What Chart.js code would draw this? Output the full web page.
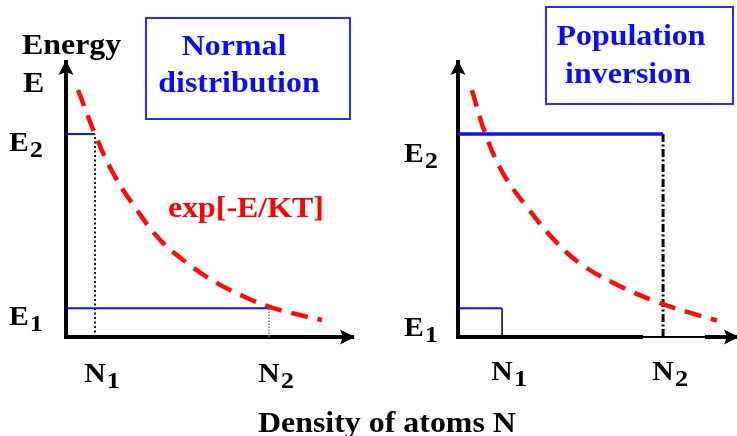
<!DOCTYPE html>
<html>
<head>
<meta charset="utf-8">
<script src="https://cdn.jsdelivr.net/npm/chart.js@4.4.1/dist/chart.umd.min.js"></script>
<style>
  html, body { margin: 0; padding: 0; background: #fff; }
  #wrap { position: relative; width: 737px; height: 436px; overflow: hidden;
          font-family: "Liberation Serif", "Times New Roman", serif; font-weight: bold; }
  .pane { position: absolute; top: 0; height: 436px; }
  #paneL { left: 0; width: 370px; }
  #paneR { left: 370px; width: 367px; }
  .txt { position: absolute; white-space: nowrap; line-height: 1; font-size: 29px;
         transform: scaleX(1.1); transform-origin: left top; }
  .ctr { width: 300px; text-align: center; transform-origin: center top; }
  .blue { color: #0a0aff; }
  .box { position: absolute; border: 2px solid #2a2aff; box-sizing: border-box; }
</style>
</head>
<body>
<div id="wrap">
  <div class="pane" id="paneL"><canvas id="normalChart"></canvas></div>
  <div class="pane" id="paneR"><canvas id="inversionChart"></canvas></div>

  <div class="box" style="left:145px;top:17px;width:206px;height:103px"></div>
  <div class="box" style="left:545px;top:6px;width:189px;height:99px"></div>

  <div class="txt" style="left:22px;top:30px">Energy</div>
  <div class="txt" style="left:23px;top:68px">E</div>
  <div class="txt ctr blue" style="left:84px;top:31px">Normal</div>
  <div class="txt ctr blue" style="left:89px;top:68px">distribution</div>
  <div class="txt ctr blue" style="left:481px;top:21px">Population</div>
  <div class="txt ctr blue" style="left:478px;top:59px">inversion</div>
  <div class="txt" style="left:168px;top:193px;color:#ff0000">exp[-E/KT]</div>
  <div class="txt" style="left:258px;top:408px">Density of atoms N</div>
</div>

<script>
// ===== DATA (axis units: 0..10 on both axes of each panel) =====
// left panel: normal (Boltzmann) distribution
const normalCurveX = [0.42, 1.01, 1.64, 2.47, 3.28, 4.22, 5.26, 6.31, 7.11, 8.15, 8.92];
const normalCurveY = [8.98, 7.38, 5.96, 4.62, 3.53, 2.69, 1.96, 1.42, 1.09, 0.80, 0.62];
const normalLevels = [1.05, 7.38];   // E1, E2
const normalPops   = [1.01, 7.07];   // N1, N2

// right panel: population inversion
const invCurveX = [0.50, 0.97, 1.61, 2.47, 3.55, 4.48, 5.70, 6.99, 8.21, 9.28];
const invCurveY = [8.98, 7.42, 5.96, 4.73, 3.42, 2.60, 1.90, 1.33, 0.91, 0.60];
const invLevels = [1.05, 7.38];      // E1, E2
const invPops   = [1.58, 7.35];      // N1, N2

const RED = '#ff0a0a';
const BLUE = '#0f0fff';

const pts = (xs, ys) => xs.map((x, i) => ({ x, y: ys[i] }));
const seg = (x1, y1, x2, y2) => [{ x: x1, y: y1 }, { x: x2, y: y2 }];
const mk = (data, color, width, dash) => ({
  data, borderColor: color, borderWidth: width, borderDash: dash || [],
  pointRadius: 0, showLine: true, fill: false
});

// ===== PLUGINS =====
const arrowAxes = {
  id: 'arrowAxes',
  beforeDatasetsDraw(chart, args, o) {
    const { ctx, chartArea: a, scales: { x } } = chart;
    ctx.save();
    ctx.fillStyle = '#000';
    ctx.fillRect(a.left - 2, a.bottom - 2, 4, 4);   // square corner
    if (o.thinFrom != null) {
      // thin stretch of the N axis around N2
      const x1 = x.getPixelForValue(o.thinFrom), x2 = x.getPixelForValue(o.thinTo);
      ctx.fillStyle = '#fff';
      ctx.fillRect(x1, a.bottom - 3, x2 - x1, 6);
      ctx.fillStyle = '#000';
      ctx.fillRect(x1, a.bottom - 1, x2 - x1, 2);
    }
    ctx.restore();
  },
  afterDraw(chart) {
    const { ctx, chartArea: a } = chart;
    ctx.save();
    ctx.fillStyle = '#000';
    ctx.beginPath();
    ctx.moveTo(a.left, a.top - 2);
    ctx.lineTo(a.left - 7.5, a.top + 13);
    ctx.lineTo(a.left, a.top + 10);
    ctx.lineTo(a.left + 7.5, a.top + 13);
    ctx.closePath();
    ctx.fill();
    ctx.beginPath();
    ctx.moveTo(a.right + 2, a.bottom);
    ctx.lineTo(a.right - 13, a.bottom - 7.5);
    ctx.lineTo(a.right - 10, a.bottom);
    ctx.lineTo(a.right - 13, a.bottom + 7.5);
    ctx.closePath();
    ctx.fill();
    ctx.restore();
  }
};

function drawSub(ctx, main, sub, px, base, align) {
  const k = 1.1;
  ctx.font = 'bold 27px "Liberation Serif", serif';
  const mw = ctx.measureText(main).width;
  ctx.font = 'bold 24px "Liberation Serif", serif';
  const sw = ctx.measureText(sub).width;
  const start = align === 'right' ? px - (mw + 1 + sw) * k : px - mw * k / 2;
  ctx.save();
  ctx.translate(start, base);
  ctx.scale(k, 1);
  ctx.font = 'bold 27px "Liberation Serif", serif';
  ctx.fillText(main, 0, 0);
  ctx.font = 'bold 24px "Liberation Serif", serif';
  ctx.fillText(sub, mw + 1, 6);
  ctx.restore();
}

const levelLabels = {
  id: 'levelLabels',
  afterDraw(chart, args, o) {
    const { ctx, chartArea: a, scales: { x, y } } = chart;
    ctx.save();
    ctx.fillStyle = '#000';
    ctx.textBaseline = 'alphabetic';
    ctx.textAlign = 'left';
    o.levels.forEach((v, i) => drawSub(ctx, 'E', String(i + 1), a.left - o.ePad, y.getPixelForValue(v) + o.eDrop, 'right'));
    o.pops.forEach((v, i) => drawSub(ctx, 'N', String(i + 1), x.getPixelForValue(v), a.bottom + o.nDrop, 'center'));
    ctx.restore();
  }
};

// ===== CHART BUILDER =====
function makePanel(id, cfg) {
  const curve = Object.assign(mk(pts(cfg.curveX, cfg.curveY), RED, 4.5, [17, 10]), { tension: 0.4 });

  return new Chart(document.getElementById(id), {
    type: 'scatter',
    data: { datasets: [curve, ...cfg.extra] },
    options: {
      responsive: true,
      maintainAspectRatio: false,
      animation: false,
      events: [],
      layout: { padding: { top: 62, right: cfg.padRight, left: 0, bottom: 0 } },
      plugins: {
        legend: { display: false },
        tooltip: { enabled: false },
        arrowAxes: cfg.arrow || {},
        levelLabels: { levels: cfg.levels, pops: cfg.pops, ePad: cfg.ePad, eDrop: cfg.eDrop, nDrop: cfg.nDrop }
      },
      scales: {
        x: {
          type: 'linear', min: 0, max: 10,
          grid: { display: false },
          border: { display: true, color: '#000', width: 4 },
          ticks: { display: false },
          afterFit: s => { s.height = 99; }
        },
        y: {
          type: 'linear', min: 0, max: 10,
          grid: { display: false },
          border: { display: true, color: '#000', width: 4 },
          ticks: { display: false },
          afterFit: s => { s.width = cfg.axisLeft; }
        }
      }
    },
    plugins: [arrowAxes, levelLabels]
  });
}

makePanel('normalChart', {
  curveX: normalCurveX, curveY: normalCurveY,
  levels: normalLevels, pops: normalPops,
  axisLeft: 66, padRight: 17, ePad: 23, eDrop: 17, nDrop: 45,
  extra: [
    mk(seg(0, normalLevels[1], normalPops[0], normalLevels[1]), BLUE, 2),
    mk(seg(0, normalLevels[0], normalPops[1], normalLevels[0]), BLUE, 2),
    mk(seg(normalPops[0], 0, normalPops[0], normalLevels[1]), '#111', 2, [2, 2.5]),
    mk(seg(normalPops[1], 0, normalPops[1], normalLevels[0]), '#777', 1.5, [1.5, 1.5])
  ]
});

makePanel('inversionChart', {
  curveX: invCurveX, curveY: invCurveY,
  levels: invLevels, pops: invPops,
  axisLeft: 88, padRight: 0, ePad: 20, eDrop: 28, nDrop: 43,
  arrow: { thinFrom: invPops[1] - 0.72, thinTo: invPops[1] + 1.5 },
  extra: [
    mk(seg(0, invLevels[1], invPops[1], invLevels[1]), BLUE, 3.5),
    mk(seg(0, invLevels[0], invPops[0], invLevels[0]), BLUE, 2),
    mk(seg(invPops[0], 0, invPops[0], invLevels[0]), '#000', 1.5),
    mk(seg(invPops[1], 0, invPops[1], invLevels[1]), '#000', 3, [8, 2.5, 2, 2.5])
  ]
});
</script>
</body>
</html>
